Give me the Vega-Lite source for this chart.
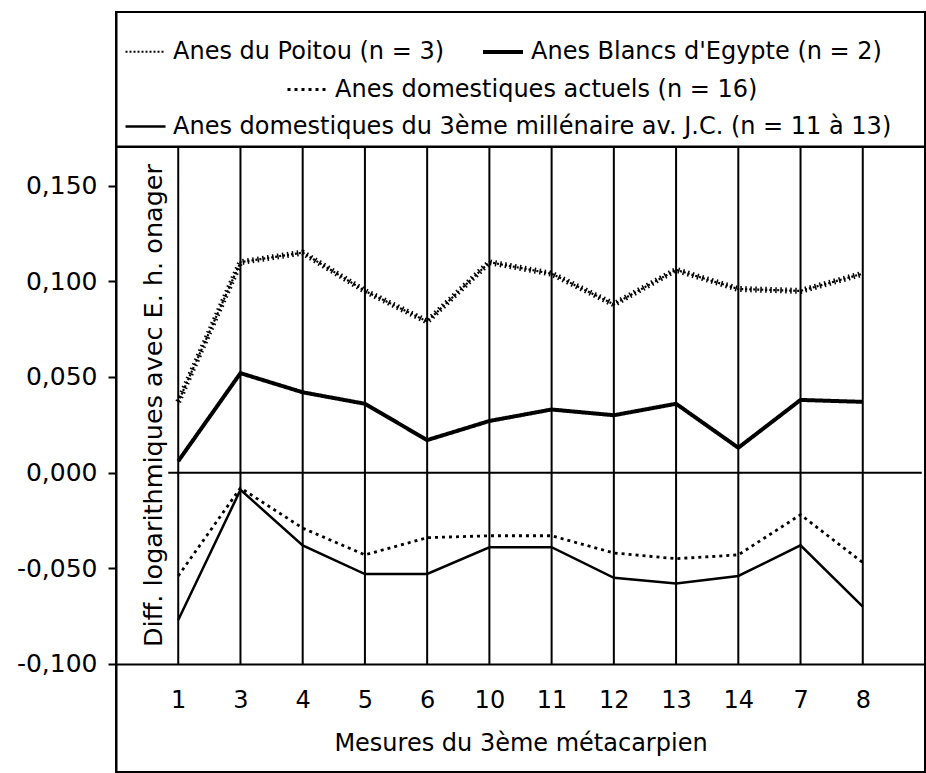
{
  "$schema": "https://vega.github.io/schema/vega-lite/v6.json",
  "width": 809,
  "height": 760,
  "autosize": {"type": "none"},
  "padding": {"left": 116, "top": 12, "right": 1, "bottom": 1},
  "background": "white",
  "config": {
    "font": "DejaVu Sans",
    "locale": {"number": {"decimal": ",", "thousands": " ", "grouping": [3], "currency": ["", ""], "minus": "-"}},
    "view": {"stroke": "black", "strokeWidth": 2},
    "axis": {"labelFont": "DejaVu Sans", "titleFont": "DejaVu Sans", "labelColor": "black", "titleColor": "black", "domainColor": "black", "tickColor": "black", "titleFontWeight": "normal"},
    "legend": {"labelFont": "DejaVu Sans", "labelColor": "black", "labelFontSize": 24, "labelLimit": 900, "padding": 0, "labelOffset": 6, "symbolSize": 1600, "symbolType": "stroke", "title": null}
  },
  "datasets": {
    "cats": [
      {"cat": "1"}, {"cat": "3"}, {"cat": "4"}, {"cat": "5"}, {"cat": "6"}, {"cat": "10"},
      {"cat": "11"}, {"cat": "12"}, {"cat": "13"}, {"cat": "14"}, {"cat": "7"}, {"cat": "8"}
    ],
    "series": [
      {"serie": "Anes du Poitou (n = 3)", "cat": "1", "v": 0.037},
      {"serie": "Anes du Poitou (n = 3)", "cat": "3", "v": 0.110},
      {"serie": "Anes du Poitou (n = 3)", "cat": "4", "v": 0.115},
      {"serie": "Anes du Poitou (n = 3)", "cat": "5", "v": 0.095},
      {"serie": "Anes du Poitou (n = 3)", "cat": "6", "v": 0.079},
      {"serie": "Anes du Poitou (n = 3)", "cat": "10", "v": 0.110},
      {"serie": "Anes du Poitou (n = 3)", "cat": "11", "v": 0.104},
      {"serie": "Anes du Poitou (n = 3)", "cat": "12", "v": 0.088},
      {"serie": "Anes du Poitou (n = 3)", "cat": "13", "v": 0.106},
      {"serie": "Anes du Poitou (n = 3)", "cat": "14", "v": 0.096},
      {"serie": "Anes du Poitou (n = 3)", "cat": "7", "v": 0.095},
      {"serie": "Anes du Poitou (n = 3)", "cat": "8", "v": 0.104},
      {"serie": "Anes Blancs d'Egypte (n = 2)", "cat": "1", "v": 0.006},
      {"serie": "Anes Blancs d'Egypte (n = 2)", "cat": "3", "v": 0.052},
      {"serie": "Anes Blancs d'Egypte (n = 2)", "cat": "4", "v": 0.042},
      {"serie": "Anes Blancs d'Egypte (n = 2)", "cat": "5", "v": 0.036},
      {"serie": "Anes Blancs d'Egypte (n = 2)", "cat": "6", "v": 0.017},
      {"serie": "Anes Blancs d'Egypte (n = 2)", "cat": "10", "v": 0.027},
      {"serie": "Anes Blancs d'Egypte (n = 2)", "cat": "11", "v": 0.033},
      {"serie": "Anes Blancs d'Egypte (n = 2)", "cat": "12", "v": 0.030},
      {"serie": "Anes Blancs d'Egypte (n = 2)", "cat": "13", "v": 0.036},
      {"serie": "Anes Blancs d'Egypte (n = 2)", "cat": "14", "v": 0.013},
      {"serie": "Anes Blancs d'Egypte (n = 2)", "cat": "7", "v": 0.038},
      {"serie": "Anes Blancs d'Egypte (n = 2)", "cat": "8", "v": 0.037},
      {"serie": "Anes domestiques actuels (n = 16)", "cat": "1", "v": -0.054},
      {"serie": "Anes domestiques actuels (n = 16)", "cat": "3", "v": -0.008},
      {"serie": "Anes domestiques actuels (n = 16)", "cat": "4", "v": -0.029},
      {"serie": "Anes domestiques actuels (n = 16)", "cat": "5", "v": -0.043},
      {"serie": "Anes domestiques actuels (n = 16)", "cat": "6", "v": -0.034},
      {"serie": "Anes domestiques actuels (n = 16)", "cat": "10", "v": -0.033},
      {"serie": "Anes domestiques actuels (n = 16)", "cat": "11", "v": -0.033},
      {"serie": "Anes domestiques actuels (n = 16)", "cat": "12", "v": -0.042},
      {"serie": "Anes domestiques actuels (n = 16)", "cat": "13", "v": -0.045},
      {"serie": "Anes domestiques actuels (n = 16)", "cat": "14", "v": -0.043},
      {"serie": "Anes domestiques actuels (n = 16)", "cat": "7", "v": -0.022},
      {"serie": "Anes domestiques actuels (n = 16)", "cat": "8", "v": -0.047},
      {"serie": "Anes domestiques du 3ème millénaire av. J.C. (n = 11 à 13)", "cat": "1", "v": -0.077},
      {"serie": "Anes domestiques du 3ème millénaire av. J.C. (n = 11 à 13)", "cat": "3", "v": -0.009},
      {"serie": "Anes domestiques du 3ème millénaire av. J.C. (n = 11 à 13)", "cat": "4", "v": -0.038},
      {"serie": "Anes domestiques du 3ème millénaire av. J.C. (n = 11 à 13)", "cat": "5", "v": -0.053},
      {"serie": "Anes domestiques du 3ème millénaire av. J.C. (n = 11 à 13)", "cat": "6", "v": -0.053},
      {"serie": "Anes domestiques du 3ème millénaire av. J.C. (n = 11 à 13)", "cat": "10", "v": -0.039},
      {"serie": "Anes domestiques du 3ème millénaire av. J.C. (n = 11 à 13)", "cat": "11", "v": -0.039},
      {"serie": "Anes domestiques du 3ème millénaire av. J.C. (n = 11 à 13)", "cat": "12", "v": -0.055},
      {"serie": "Anes domestiques du 3ème millénaire av. J.C. (n = 11 à 13)", "cat": "13", "v": -0.058},
      {"serie": "Anes domestiques du 3ème millénaire av. J.C. (n = 11 à 13)", "cat": "14", "v": -0.054},
      {"serie": "Anes domestiques du 3ème millénaire av. J.C. (n = 11 à 13)", "cat": "7", "v": -0.038},
      {"serie": "Anes domestiques du 3ème millénaire av. J.C. (n = 11 à 13)", "cat": "8", "v": -0.070}
    ]
  },
  "layer": [
    {
      "data": {"name": "cats"},
      "mark": {"type": "rule", "color": "black", "strokeWidth": 2},
      "encoding": {
        "x": {"field": "cat", "type": "ordinal", "sort": ["1","3","4","5","6","10","11","12","13","14","7","8"],
              "scale": {"type": "point", "domain": ["1","3","4","5","6","10","11","12","13","14","7","8"], "padding": 1},
              "axis": {"title": "Mesures du 3ème métacarpien", "orient": "bottom", "offset": -108, "labelAngle": 0, "labelFontSize": 24, "labelPadding": 36, "labelBaseline": "middle", "ticks": false, "tickSize": 0, "domain": true, "domainWidth": 2, "grid": false, "titleFontSize": 24, "titleY": 79, "titleBaseline": "middle"}},
        "y": {"datum": 0.1703, "type": "quantitative", "scale": {"domain": [-0.1565, 0.2408], "nice": false, "zero": false},
              "axis": {"values": [-0.1, -0.05, 0, 0.05, 0.1, 0.15], "format": ".3f", "title": "Diff. logarithmiques avec E. h. onager", "titleX": 37, "titleY": 393, "titleAngle": -90, "titleAlign": "center", "titleBaseline": "middle", "titleFontSize": 25.5, "labelFontSize": 25, "labelPadding": 11, "tickSize": 8, "tickWidth": 2, "domain": true, "domainWidth": 2, "grid": false}},
        "y2": {"datum": -0.1}
      }
    },
    {
      "data": {"values": [{}]},
      "mark": {"type": "rule", "color": "black", "strokeWidth": 2.5},
      "encoding": {"y": {"datum": 0.1703, "type": "quantitative"}}
    },
    {
      "data": {"values": [{}]},
      "mark": {"type": "rule", "color": "black", "strokeWidth": 2, "xOffset": -10, "x2Offset": 59},
      "encoding": {
        "x": {"datum": "1", "type": "ordinal"},
        "x2": {"datum": "8"},
        "y": {"datum": 0, "type": "quantitative"}
      }
    },
    {
      "data": {"name": "series"},
      "transform": [{"filter": {"field": "serie", "oneOf": ["Anes du Poitou (n = 3)", "Anes Blancs d'Egypte (n = 2)"]}}],
      "mark": {"type": "line"},
      "encoding": {
        "x": {"field": "cat", "type": "ordinal", "sort": ["1","3","4","5","6","10","11","12","13","14","7","8"]},
        "y": {"field": "v", "type": "quantitative"},
        "color": {"field": "serie", "type": "nominal", "scale": {"domain": ["Anes du Poitou (n = 3)", "Anes Blancs d'Egypte (n = 2)"], "range": ["black", "black"]},
                  "legend": {"orient": "none", "legendX": 8, "legendY": 18, "direction": "horizontal", "columnPadding": 30}},
        "strokeDash": {"field": "serie", "type": "nominal", "scale": {"domain": ["Anes du Poitou (n = 3)", "Anes Blancs d'Egypte (n = 2)"], "range": [[2, 2], [1, 0]]}},
        "strokeWidth": {"field": "serie", "type": "nominal", "scale": {"type": "ordinal", "domain": ["Anes du Poitou (n = 3)", "Anes Blancs d'Egypte (n = 2)"], "range": [2.2, 4]}}
      }
    },
    {
      "data": {"name": "series"},
      "transform": [{"filter": {"field": "serie", "equal": "Anes du Poitou (n = 3)"}}],
      "mark": {"type": "line", "color": "black", "strokeWidth": 6, "strokeDash": [1.5, 3.5]},
      "encoding": {
        "x": {"field": "cat", "type": "ordinal", "sort": ["1","3","4","5","6","10","11","12","13","14","7","8"]},
        "y": {"field": "v", "type": "quantitative"}
      }
    },
    {
      "data": {"name": "series"},
      "transform": [{"filter": {"field": "serie", "equal": "Anes domestiques actuels (n = 16)"}}],
      "mark": {"type": "line", "strokeWidth": 2.8},
      "encoding": {
        "x": {"field": "cat", "type": "ordinal", "sort": ["1","3","4","5","6","10","11","12","13","14","7","8"]},
        "y": {"field": "v", "type": "quantitative"},
        "color": {"field": "serie", "type": "nominal", "scale": {"domain": ["Anes domestiques actuels (n = 16)"], "range": ["black"]},
                  "legend": {"orient": "none", "legendX": 170, "legendY": 56, "symbolStrokeWidth": 2.8}},
        "strokeDash": {"field": "serie", "type": "nominal", "scale": {"domain": ["Anes domestiques actuels (n = 16)"], "range": [[3, 4]]}}
      }
    },
    {
      "data": {"name": "series"},
      "transform": [{"filter": {"field": "serie", "equal": "Anes domestiques du 3ème millénaire av. J.C. (n = 11 à 13)"}}],
      "mark": {"type": "line", "strokeWidth": 2.5},
      "encoding": {
        "x": {"field": "cat", "type": "ordinal", "sort": ["1","3","4","5","6","10","11","12","13","14","7","8"]},
        "y": {"field": "v", "type": "quantitative"},
        "color": {"field": "serie", "type": "nominal", "scale": {"domain": ["Anes domestiques du 3ème millénaire av. J.C. (n = 11 à 13)"], "range": ["black"]},
                  "legend": {"orient": "none", "legendX": 8, "legendY": 93, "symbolStrokeWidth": 2.5}}
      }
    }
  ],
  "resolve": {"scale": {"color": "independent", "strokeDash": "independent", "strokeWidth": "independent"}}
}
